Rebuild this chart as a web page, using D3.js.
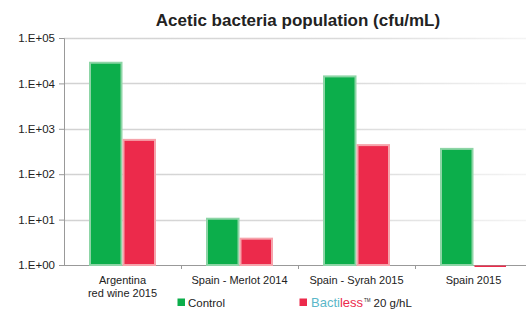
<!DOCTYPE html>
<html>
<head>
<meta charset="utf-8">
<script src="https://cdn.jsdelivr.net/npm/d3@7"></script>
<style>
  body { margin: 0; background: #fff; }
  svg { font-family: "Liberation Sans", Arial, sans-serif; }
</style>
</head>
<body>
<div id="chart"></div>
<script>
// data
var categories = ["Argentina\nred wine 2015", "Spain - Merlot 2014", "Spain - Syrah 2015", "Spain 2015"];
var control = [30000, 11, 15000, 380];
var bactiless = [600, 4, 460, 1];
var tickValues = [1, 10, 100, 1000, 10000, 100000];
var tickLabels = ["1.E+00", "1.E+01", "1.E+02", "1.E+03", "1.E+04", "1.E+05"];
var seriesNames = ["Control", "Bactiless"];
var seriesColors = ["#0cae4b", "#ec2a4b"];
var edgeColors = ["#8dd5a6", "#f6a3ab"];

var w = 526, h = 309;
var plotLeft = 64, plotRight = 532, plotTop = 38, plotBottom = 265;

var svg = d3.select("#chart").append("svg")
    .attr("width", w)
    .attr("height", h);

var defs = svg.append("defs");
var grad = defs.append("linearGradient").attr("id", "gridfade")
    .attr("gradientUnits", "userSpaceOnUse")
    .attr("x1", plotLeft).attr("x2", w).attr("y1", 0).attr("y2", 0);
grad.append("stop").attr("offset", "0%").attr("stop-color", "#d2d2d2");
grad.append("stop").attr("offset", "60%").attr("stop-color", "#dadada");
grad.append("stop").attr("offset", "100%").attr("stop-color", "#f4f4f4");

var y = d3.scaleLog().domain([1, 100000]).range([plotBottom, plotTop]);
var x0 = d3.scaleBand().domain(d3.range(categories.length)).range([plotLeft, plotRight]);
var x1 = d3.scaleBand().domain([0, 1]).range([25, x0.bandwidth() - 25]);

// title
svg.append("text")
    .attr("x", 298).attr("y", 25.5)
    .attr("text-anchor", "middle")
    .style("font-size", "17px").style("font-weight", "bold")
    .style("fill", "#222")
    .text("Acetic bacteria population (cfu/mL)");

// grid lines
svg.selectAll("line.grid")
    .data(tickValues.slice(1))
    .enter().append("line")
    .attr("class", "grid")
    .attr("x1", plotLeft).attr("x2", w)
    .attr("y1", function (d) { return Math.round(y(d)) + 0.5; })
    .attr("y2", function (d) { return Math.round(y(d)) + 0.5; })
    .attr("stroke", "url(#gridfade)")
    .attr("stroke-width", 1.5);

// y axis
var yAxis = d3.axisLeft(y)
    .tickValues(tickValues)
    .tickFormat(function (d, i) { return tickLabels[i]; })
    .tickSize(5)
    .tickPadding(4);
var gy = svg.append("g").attr("transform", "translate(" + plotLeft + ",0)").call(yAxis);
gy.select(".domain").attr("stroke", "#999");
gy.selectAll(".tick line").attr("stroke", "#999");
gy.selectAll(".tick text").style("font-size", "11.5px").style("fill", "#222").style("font-family", "Liberation Sans, Arial, sans-serif");

// x axis
svg.append("line")
    .attr("x1", plotLeft).attr("x2", w)
    .attr("y1", plotBottom + 0.5).attr("y2", plotBottom + 0.5)
    .attr("stroke", "#999");
svg.selectAll("line.xtick")
    .data(d3.range(1, categories.length))
    .enter().append("line")
    .attr("x1", function (d) { return Math.round(x0(d)) + 0.5; })
    .attr("x2", function (d) { return Math.round(x0(d)) + 0.5; })
    .attr("y1", plotBottom).attr("y2", plotBottom + 4)
    .attr("stroke", "#999");

// bars
var groups = svg.selectAll("g.cat")
    .data(categories)
    .enter().append("g")
    .attr("class", "cat")
    .attr("transform", function (d, i) { return "translate(" + x0(i) + ",0)"; });

groups.selectAll("rect")
    .data(function (d, i) { return [control[i], bactiless[i]]; })
    .enter().append("rect")
    .attr("x", function (d, j) { return x1(j) + 1; })
    .attr("width", x1.bandwidth() - 2)
    .attr("y", function (d) { return d <= 1 ? plotBottom + 0.5 : y(d) + 1; })
    .attr("height", function (d) { return d <= 1 ? 1.5 : plotBottom - y(d) - 1; })
    .attr("fill", function (d, j) { return seriesColors[j]; })
    .attr("stroke", function (d, j) { return d <= 1 ? "none" : edgeColors[j]; })
    .attr("stroke-width", 2);

// category labels
groups.append("text")
    .attr("x", x0.bandwidth() / 2)
    .attr("y", 283.5)
    .attr("text-anchor", "middle")
    .style("font-size", "11px").style("fill", "#222")
    .selectAll("tspan")
    .data(function (d) { return d.split("\n"); })
    .enter().append("tspan")
    .attr("x", x0.bandwidth() / 2)
    .attr("dy", function (d, i) { return i ? 13.5 : 0; })
    .text(function (d) { return d; });

// legend
var legend = svg.append("g");
legend.append("rect").attr("x", 177.5).attr("y", 298.5).attr("width", 7.5).attr("height", 7.5).attr("fill", seriesColors[0]);
legend.append("text").attr("x", 188).attr("y", 306.5).style("font-size", "11.5px").style("fill", "#222").text(seriesNames[0]);
legend.append("rect").attr("x", 299.5).attr("y", 298.5).attr("width", 7.5).attr("height", 7.5).attr("fill", seriesColors[1]);
var lt = legend.append("text").attr("x", 311).attr("y", 306.5).style("font-size", "11.5px").style("fill", "#222");
lt.append("tspan").style("fill", "#5ab7c9").style("font-size", "13px").text("Bacti");
lt.append("tspan").style("fill", "#ec2a4b").style("font-size", "13px").text("less");
lt.append("tspan").attr("dy", -5).attr("dx", 1).style("font-size", "4.5px").text("TM");
lt.append("tspan").attr("dy", 5).attr("dx", 3).text("20 g/hL");
</script>
</body>
</html>
